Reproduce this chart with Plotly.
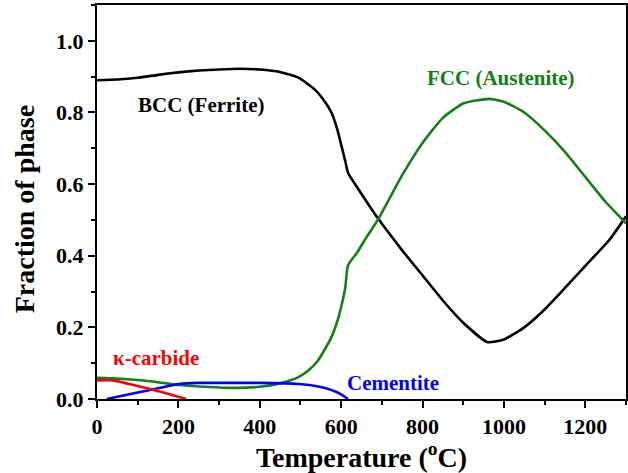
import plotly.graph_objects as go

# BCC (Ferrite)
bcc_t = [0, 50, 100, 150, 200, 250, 300, 350, 400, 450, 495, 536, 560, 576, 590, 600, 610, 617, 640, 690, 750, 800, 850, 900, 959, 1000, 1050, 1100, 1150, 1200, 1259, 1300]
bcc_v = [0.890, 0.892, 0.897, 0.905, 0.912, 0.917, 0.920, 0.922, 0.920, 0.913, 0.897, 0.863, 0.830, 0.800, 0.755, 0.710, 0.665, 0.631, 0.590, 0.505, 0.415, 0.345, 0.275, 0.213, 0.159, 0.166, 0.200, 0.250, 0.310, 0.372, 0.444, 0.510]

# FCC (Austenite)
fcc_t = [0, 50, 100, 150, 202, 250, 332, 400, 454, 495, 520, 544, 575, 590, 600, 610, 617, 640, 658, 690, 750, 800, 850, 900, 963, 1000, 1050, 1100, 1150, 1200, 1250, 1288, 1300]
fcc_v = [0.059, 0.057, 0.053, 0.047, 0.039, 0.035, 0.031, 0.034, 0.045, 0.061, 0.080, 0.109, 0.170, 0.215, 0.257, 0.310, 0.374, 0.410, 0.444, 0.500, 0.625, 0.715, 0.785, 0.825, 0.838, 0.830, 0.800, 0.750, 0.690, 0.620, 0.550, 0.505, 0.490]

# Cementite
cem_t = [24, 100, 150, 202, 250, 300, 400, 495, 544, 576, 600, 617]
cem_v = [0.000, 0.018, 0.030, 0.042, 0.045, 0.045, 0.045, 0.042, 0.035, 0.025, 0.013, 0.000]

# kappa-carbide
kap_t = [0, 40, 100, 150, 219]
kap_v = [0.052, 0.052, 0.036, 0.022, 0.000]

font_fam = "Liberation Serif, Times New Roman, serif"

fig = go.Figure()
lw = 2.6
fig.add_trace(go.Scatter(x=bcc_t, y=bcc_v, mode="lines", line=dict(color="black", width=lw, shape="spline", smoothing=0.5)))
fig.add_trace(go.Scatter(x=fcc_t, y=fcc_v, mode="lines", line=dict(color="#138013", width=lw, shape="spline", smoothing=0.5)))
fig.add_trace(go.Scatter(x=cem_t, y=cem_v, mode="lines", line=dict(color="#0000ff", width=lw, shape="spline", smoothing=0.5)))
fig.add_trace(go.Scatter(x=kap_t, y=kap_v, mode="lines", line=dict(color="#ff0000", width=lw, shape="spline", smoothing=0.4)))

ann_size = 21
def afont(c, s=ann_size):
    return dict(family=font_fam, size=s, color=c, weight="bold")

fig.add_annotation(x=258, y=0.82, text="BCC (Ferrite)", showarrow=False, font=afont("black"))
fig.add_annotation(x=992, y=0.895, text="FCC (Austenite)", showarrow=False, font=afont("#138013"))
fig.add_annotation(x=146, y=0.115, text="κ-carbide", showarrow=False, font=afont("#ff0000"))
fig.add_annotation(x=728, y=0.045, text="Cementite", showarrow=False, font=afont("#0000ff"))
# y-axis title
fig.add_annotation(xref="paper", yref="paper", x=(24 - 97) / 531, y=(399 - 209) / 394,
                   text="Fraction of phase", textangle=-90, showarrow=False,
                   xanchor="center", yanchor="middle", font=afont("black", 28))

axis_common = dict(showgrid=False, zeroline=False, showline=True, linecolor="black", linewidth=2,
                   ticks="outside", tickwidth=2, ticklen=7, tickcolor="black",
                   tickfont=dict(family=font_fam, size=22, color="black", weight="bold"))

fig.update_xaxes(range=[0, 1300], dtick=200, tick0=0, mirror=True,
                 minor=dict(dtick=100, ticks="outside", ticklen=4, tickwidth=1.5, tickcolor="black"),
                 title=dict(text="Temperature (<sup>o</sup>C)", font=dict(family=font_fam, size=28, color="black", weight="bold"), standoff=3),
                 **axis_common)
fig.update_yaxes(range=[0, 1.1], dtick=0.2, tick0=0, tickformat=".1f", mirror=True,
                 minor=dict(dtick=0.1, ticks="outside", ticklen=4, tickwidth=1.5, tickcolor="black"),
                 **axis_common)

fig.update_layout(width=628, height=473, margin=dict(l=97, r=0, t=5, b=74),
                  font=dict(family=font_fam),
                  paper_bgcolor="white", plot_bgcolor="white", showlegend=False)

fig.write_html("out.html")
